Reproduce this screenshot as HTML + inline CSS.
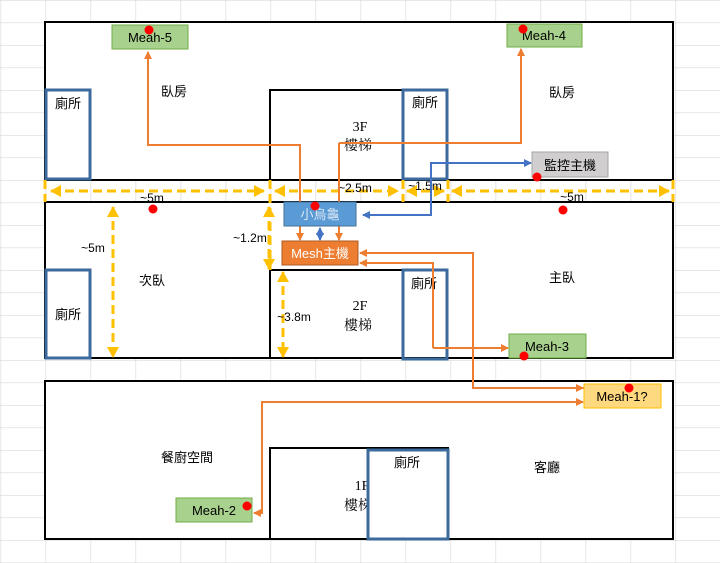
<!DOCTYPE html>
<html><head><meta charset="utf-8"><style>
html,body{margin:0;padding:0;background:#fff}
svg{display:block}
text{font-family:"Liberation Sans","Noto Sans CJK TC",sans-serif;font-size:13px;fill:#000}
.s{font-family:"Liberation Serif","Noto Serif CJK SC",serif;font-size:14px}
</style></head><body>
<svg width="720" height="563" viewBox="0 0 720 563" xmlns="http://www.w3.org/2000/svg">
<defs>
<pattern id="g" width="45" height="22.5" patternUnits="userSpaceOnUse" x="0.5" y="0">
<path d="M0 0H45M0 0V22.5" stroke="#d9d9d9" stroke-width="1.3" fill="none"/>
</pattern>
<marker id="ao" markerWidth="8" markerHeight="8" refX="7" refY="4" orient="auto" markerUnits="userSpaceOnUse"><path d="M0 0L8 4L0 8z" fill="#ed7d31"/></marker>
<marker id="ab" markerWidth="8" markerHeight="8" refX="7" refY="4" orient="auto" markerUnits="userSpaceOnUse"><path d="M0 0L8 4L0 8z" fill="#4472c4"/></marker>
<marker id="ay" markerWidth="12" markerHeight="12" refX="10" refY="6" orient="auto" markerUnits="userSpaceOnUse"><path d="M0 0L11 6L0 12z" fill="#ffc000"/></marker>
<marker id="ays" markerWidth="12" markerHeight="12" refX="1" refY="6" orient="auto" markerUnits="userSpaceOnUse"><path d="M11 0L0 6L11 12z" fill="#ffc000"/></marker>
</defs>
<rect width="720" height="563" fill="url(#g)"/>
<g fill="#fff" stroke="#000" stroke-width="2">
<rect x="45" y="22" width="628" height="158"/>
<rect x="45" y="202" width="628" height="156"/>
<rect x="45" y="381" width="628" height="158"/>
<rect x="270" y="90" width="133" height="90"/>
<rect x="270" y="270" width="133" height="88"/>
<rect x="270" y="448" width="178" height="91"/>
</g>
<rect x="45" y="181" width="628" height="20" fill="url(#g)"/>
<line x1="45" y1="180" x2="673" y2="180" stroke="#000" stroke-width="2"/>
<line x1="45" y1="202" x2="673" y2="202" stroke="#000" stroke-width="2"/>
<text class="s" x="360" y="131" text-anchor="middle">3F</text>
<text class="s" x="358" y="150" text-anchor="middle">樓梯</text>
<text class="s" x="360" y="310" text-anchor="middle">2F</text>
<text class="s" x="358" y="330" text-anchor="middle">樓梯</text>
<text class="s" x="362" y="490" text-anchor="middle">1F</text>
<text class="s" x="358" y="510" text-anchor="middle">樓梯</text>
<g fill="none" stroke="#3c6a9c" stroke-width="3">
<rect x="46" y="90" width="44" height="89"/>
<rect x="403" y="90" width="44" height="89"/>
<rect x="46" y="270" width="44" height="88"/>
<rect x="403" y="270" width="44" height="89"/>
<rect x="368" y="450" width="80" height="89" fill="#fff"/>
</g>
<text x="68" y="108" text-anchor="middle">廁所</text>
<text x="425" y="107" text-anchor="middle">廁所</text>
<text x="68" y="319" text-anchor="middle">廁所</text>
<text x="424" y="288" text-anchor="middle">廁所</text>
<text x="407" y="467" text-anchor="middle">廁所</text>
<text x="174" y="96" text-anchor="middle">臥房</text>
<text x="562" y="97" text-anchor="middle">臥房</text>
<text x="152" y="285" text-anchor="middle">次臥</text>
<text x="562" y="282" text-anchor="middle">主臥</text>
<text x="187" y="462" text-anchor="middle">餐廚空間</text>
<text x="547" y="472" text-anchor="middle">客廳</text>
<g stroke="#ffc000" stroke-width="3" stroke-dasharray="9,5" fill="none">
<line x1="45" y1="180" x2="45" y2="202"/>
<line x1="270" y1="180" x2="270" y2="270"/>
<line x1="403" y1="180" x2="403" y2="202"/>
<line x1="448" y1="180" x2="448" y2="202"/>
<line x1="673" y1="180" x2="673" y2="202"/>
<line x1="51" y1="191" x2="264" y2="191" marker-start="url(#ays)" marker-end="url(#ay)"/>
<line x1="275" y1="191" x2="398" y2="191" marker-start="url(#ays)" marker-end="url(#ay)"/>
<line x1="407" y1="191" x2="444" y2="191" marker-start="url(#ays)" marker-end="url(#ay)"/>
<line x1="452" y1="191" x2="669" y2="191" marker-start="url(#ays)" marker-end="url(#ay)"/>
<line x1="113" y1="207" x2="113" y2="357" marker-start="url(#ays)" marker-end="url(#ay)"/>
<line x1="269" y1="207" x2="269" y2="269" marker-start="url(#ays)" marker-end="url(#ay)"/>
<line x1="283" y1="272" x2="283" y2="357" marker-start="url(#ays)" marker-end="url(#ay)"/>
</g>
<text x="152" y="202" text-anchor="middle" style="font-size:12px">~5m</text>
<text x="355" y="192" text-anchor="middle" style="font-size:12px">~2.5m</text>
<text x="425" y="190" text-anchor="middle" style="font-size:12px">~1.5m</text>
<text x="572" y="201" text-anchor="middle" style="font-size:12px">~5m</text>
<text x="93" y="252" text-anchor="middle" style="font-size:12px">~5m</text>
<text x="250" y="242" text-anchor="middle" style="font-size:12px">~1.2m</text>
<text x="294" y="321" text-anchor="middle" style="font-size:12px">~3.8m</text>
<g stroke="#ed7d31" stroke-width="2" fill="none">
<polyline points="300,239 300,145 148,145 148,52" marker-end="url(#ao)"/>
<line x1="300" y1="145" x2="300" y2="240" marker-end="url(#ao)"/>
<polyline points="339,143 521,143 521,49" marker-end="url(#ao)"/>
<line x1="339" y1="143" x2="339" y2="240" marker-end="url(#ao)"/>
<polyline points="584,388 473,388 473,253 360,253" marker-end="url(#ao)"/>
<line x1="473" y1="388" x2="583" y2="388" marker-end="url(#ao)"/>
<polyline points="433,348 433,263 360,263" marker-end="url(#ao)"/>
<line x1="433" y1="348" x2="508" y2="348" marker-end="url(#ao)"/>
<polyline points="583,402 262,402 262,513 254,513" marker-end="url(#ao)"/>
<line x1="262" y1="402" x2="583" y2="402" marker-end="url(#ao)"/>
</g>
<g stroke="#4472c4" stroke-width="2" fill="none">
<polyline points="431,215 431,163 531,163" marker-end="url(#ab)"/>
<polyline points="431,163 431,215 363,215" marker-end="url(#ab)"/>
<line x1="320" y1="233" x2="320" y2="228" marker-end="url(#ab)"/>
<line x1="320" y1="233" x2="320" y2="240" marker-end="url(#ab)"/>
</g>
<rect x="112" y="25" width="76" height="24" fill="#a9d18e" stroke="#70ad47"/>
<text x="150" y="42" text-anchor="middle">Meah-5</text>
<rect x="507" y="24" width="75" height="23" fill="#a9d18e" stroke="#70ad47"/>
<text x="544" y="40" text-anchor="middle">Meah-4</text>
<rect x="532" y="152" width="76" height="25" fill="#d0cece" stroke="#a6a6a6"/>
<text x="570" y="170" text-anchor="middle">監控主機</text>
<rect x="284" y="202" width="72" height="24" fill="#5b9bd5" stroke="#41719c"/>
<text x="320" y="219" text-anchor="middle" style="fill:#dde8f5">小烏龜</text>
<rect x="282" y="241" width="76" height="24" fill="#ed7d31" stroke="#ae5a21"/>
<text x="320" y="258" text-anchor="middle" style="fill:#fff">Mesh主機</text>
<rect x="509" y="334" width="77" height="24" fill="#a9d18e" stroke="#70ad47"/>
<text x="547" y="351" text-anchor="middle">Meah-3</text>
<rect x="584" y="384" width="77" height="24" fill="#ffd97f" stroke="#ffc000"/>
<text x="622" y="401" text-anchor="middle">Meah-1?</text>
<rect x="176" y="498" width="76" height="24" fill="#a9d18e" stroke="#70ad47"/>
<text x="214" y="515" text-anchor="middle">Meah-2</text>
<g fill="#ff0000">
<circle cx="149" cy="30" r="4.5"/>
<circle cx="523" cy="29" r="4.5"/>
<circle cx="537" cy="177" r="4.5"/>
<circle cx="315" cy="206" r="4.5"/>
<circle cx="153" cy="209" r="4.5"/>
<circle cx="563" cy="210" r="4.5"/>
<circle cx="524" cy="356" r="4.5"/>
<circle cx="629" cy="388" r="4.5"/>
<circle cx="247" cy="506" r="4.5"/>
</g>
</svg>
</body></html>
